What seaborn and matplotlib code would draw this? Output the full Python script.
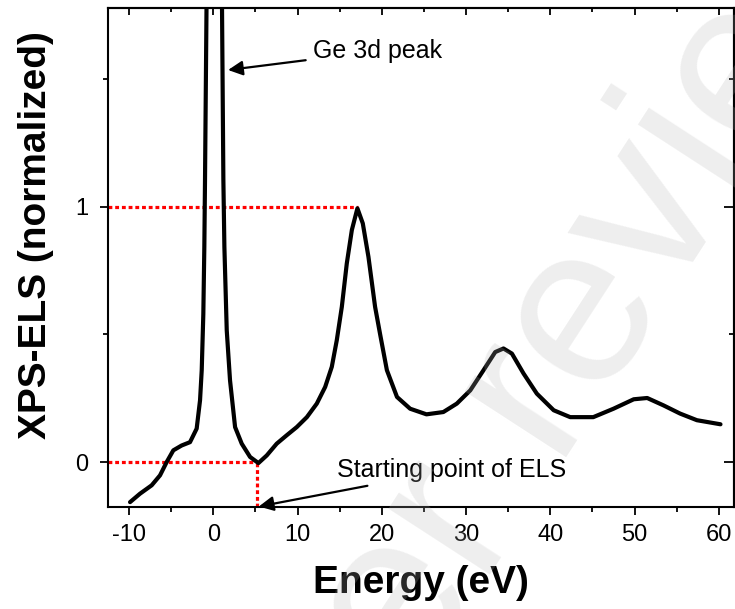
import matplotlib
matplotlib.use("Agg")
import matplotlib.pyplot as plt
import seaborn as sns
import numpy as np
import pandas as pd
from matplotlib.ticker import MultipleLocator

# ---- data ----
energy = [-9.89, -8.71, -7.32, -6.33, -5.54, -4.75, -3.76, -2.77, -1.98, -1.58,
          -1.38, -1.19, -1.07, -0.99, -0.78, 0.1, 1.0, 1.19, 1.31, 1.59, 1.98,
          2.58, 3.37, 4.36, 5.35, 6.34, 7.52, 8.71, 9.9, 11.1, 12.28, 13.27,
          14.06, 14.65, 15.25, 15.84, 16.44, 17.1, 17.74, 18.41, 19.2, 19.8,
          20.6, 21.8, 23.36, 25.3, 27.3, 28.9, 30.5, 32.07, 33.46, 34.44,
          35.44, 36.82, 38.4, 40.4, 42.36, 45.1, 47.5, 49.9, 51.5, 53.44,
          55.4, 57.4, 60.2]
intensity = [-0.157, -0.124, -0.091, -0.052, 0.0, 0.046, 0.065, 0.078, 0.131,
             0.242, 0.36, 0.58, 0.843, 1.105, 1.9, 5.0, 1.9, 1.105, 0.843,
             0.516, 0.32, 0.137, 0.072, 0.02, -0.004, 0.026, 0.072, 0.105,
             0.137, 0.176, 0.229, 0.294, 0.373, 0.477, 0.608, 0.778, 0.909,
             0.994, 0.935, 0.804, 0.608, 0.50, 0.36, 0.255, 0.209, 0.187,
             0.196, 0.229, 0.281, 0.36, 0.431, 0.445, 0.425, 0.347, 0.268,
             0.203, 0.176, 0.176, 0.209, 0.246, 0.251, 0.222, 0.19, 0.164,
             0.148]
x_ticks = [-10, 0, 10, 20, 30, 40, 50, 60]
y_ticks = [0, 1]
peak_energy, peak_value = 17.15, 1.0     # ELS plasmon peak (normalisation)
onset_energy, onset_value = 5.2, 0.0     # starting point of ELS

df = pd.DataFrame({"Energy": energy, "Intensity": intensity})

sns.set_theme(style="white")
plt.rcParams["font.family"] = ["Liberation Sans", "DejaVu Sans"]

fig = plt.figure(figsize=(7.35, 6.09), dpi=100)
ax = fig.add_axes([0.147, 0.1675, 0.8516, 0.8194])

xlim = (-12.5, 61.8)
ylim = (-0.176, 1.779)
ax.set_xlim(*xlim)
ax.set_ylim(*ylim)

# red guide lines
red_kw = dict(color="red", lw=2.3, linestyle=(0, (1.2, 0.9)), zorder=2)
ax.plot([xlim[0], peak_energy], [peak_value, peak_value], **red_kw)
ax.plot([xlim[0], onset_energy], [onset_value, onset_value], **red_kw)
ax.plot([onset_energy, onset_energy], [ylim[0], onset_value], **red_kw)

sns.lineplot(data=df, x="Energy", y="Intensity", sort=False, color="black",
             lw=3.0, ax=ax, zorder=3)

ax.set_xticks(x_ticks)
ax.set_yticks(y_ticks)
ax.xaxis.set_minor_locator(MultipleLocator(5))
ax.yaxis.set_minor_locator(MultipleLocator(0.5))
ax.set_xticklabels([str(v) for v in x_ticks])
ax.set_yticklabels([str(v) for v in y_ticks])
ax.tick_params(axis="both", which="major", direction="out", length=6,
               width=1.3, labelsize=17, color="black", labelcolor="black")
ax.tick_params(axis="x", which="major", pad=6)
ax.tick_params(axis="y", which="major", pad=8)
ax.tick_params(axis="both", which="minor", direction="out", length=3.5,
               width=1.3, color="black")
ax.tick_params(bottom=True, left=True, which="both")

for s in ax.spines.values():
    s.set_color("black")
    s.set_linewidth(1.5)

# top / right inward ticks
sec_x = ax.secondary_xaxis("top")
sec_x.set_xticks(x_ticks)
sec_x.xaxis.set_minor_locator(MultipleLocator(5))
sec_x.tick_params(which="major", direction="in", length=5, width=1.3,
                  labeltop=False, color="black")
sec_x.tick_params(which="minor", direction="in", length=3, width=1.3,
                  color="black")
sec_x.spines["top"].set_linewidth(1.5)
sec_y = ax.secondary_yaxis("right")
sec_y.set_yticks(y_ticks)
sec_y.yaxis.set_minor_locator(MultipleLocator(0.5))
sec_y.tick_params(which="major", direction="in", length=7, width=1.3,
                  labelright=False, color="black")
sec_y.tick_params(which="minor", direction="in", length=3.5, width=1.3,
                  color="black")
sec_y.spines["right"].set_linewidth(1.5)

ax.set_xlabel("Energy (eV)", fontsize=28, fontweight="bold", labelpad=14,
              color="black")
ax.set_ylabel("XPS-ELS (normalized)", fontsize=28, fontweight="bold",
              color="black")
ax.yaxis.set_label_coords(-0.087, 0.545)

arrow_kw = dict(arrowstyle="-|>", color="black", lw=1.6, mutation_scale=22,
                shrinkA=3, shrinkB=0)
ax.annotate("Ge 3d peak", xy=(1.75, 1.536), xytext=(11.84, 1.61),
            fontsize=18, ha="left", va="center", color="black",
            arrowprops=arrow_kw, zorder=5)
ax.annotate("Starting point of ELS", xy=(onset_energy + 0.2, ylim[0] + 0.002),
            xytext=(14.68, -0.03), fontsize=18, ha="left", va="center",
            color="black", arrowprops=arrow_kw, zorder=5)

# watermark
fig.text(0.735, 0.36, "Peer review", fontsize=165, rotation=57,
         ha="center", va="center", color=(0.70, 0.70, 0.70), alpha=0.22,
         zorder=10, rotation_mode="anchor")

fig.savefig("out.png", dpi=100, facecolor="white")
